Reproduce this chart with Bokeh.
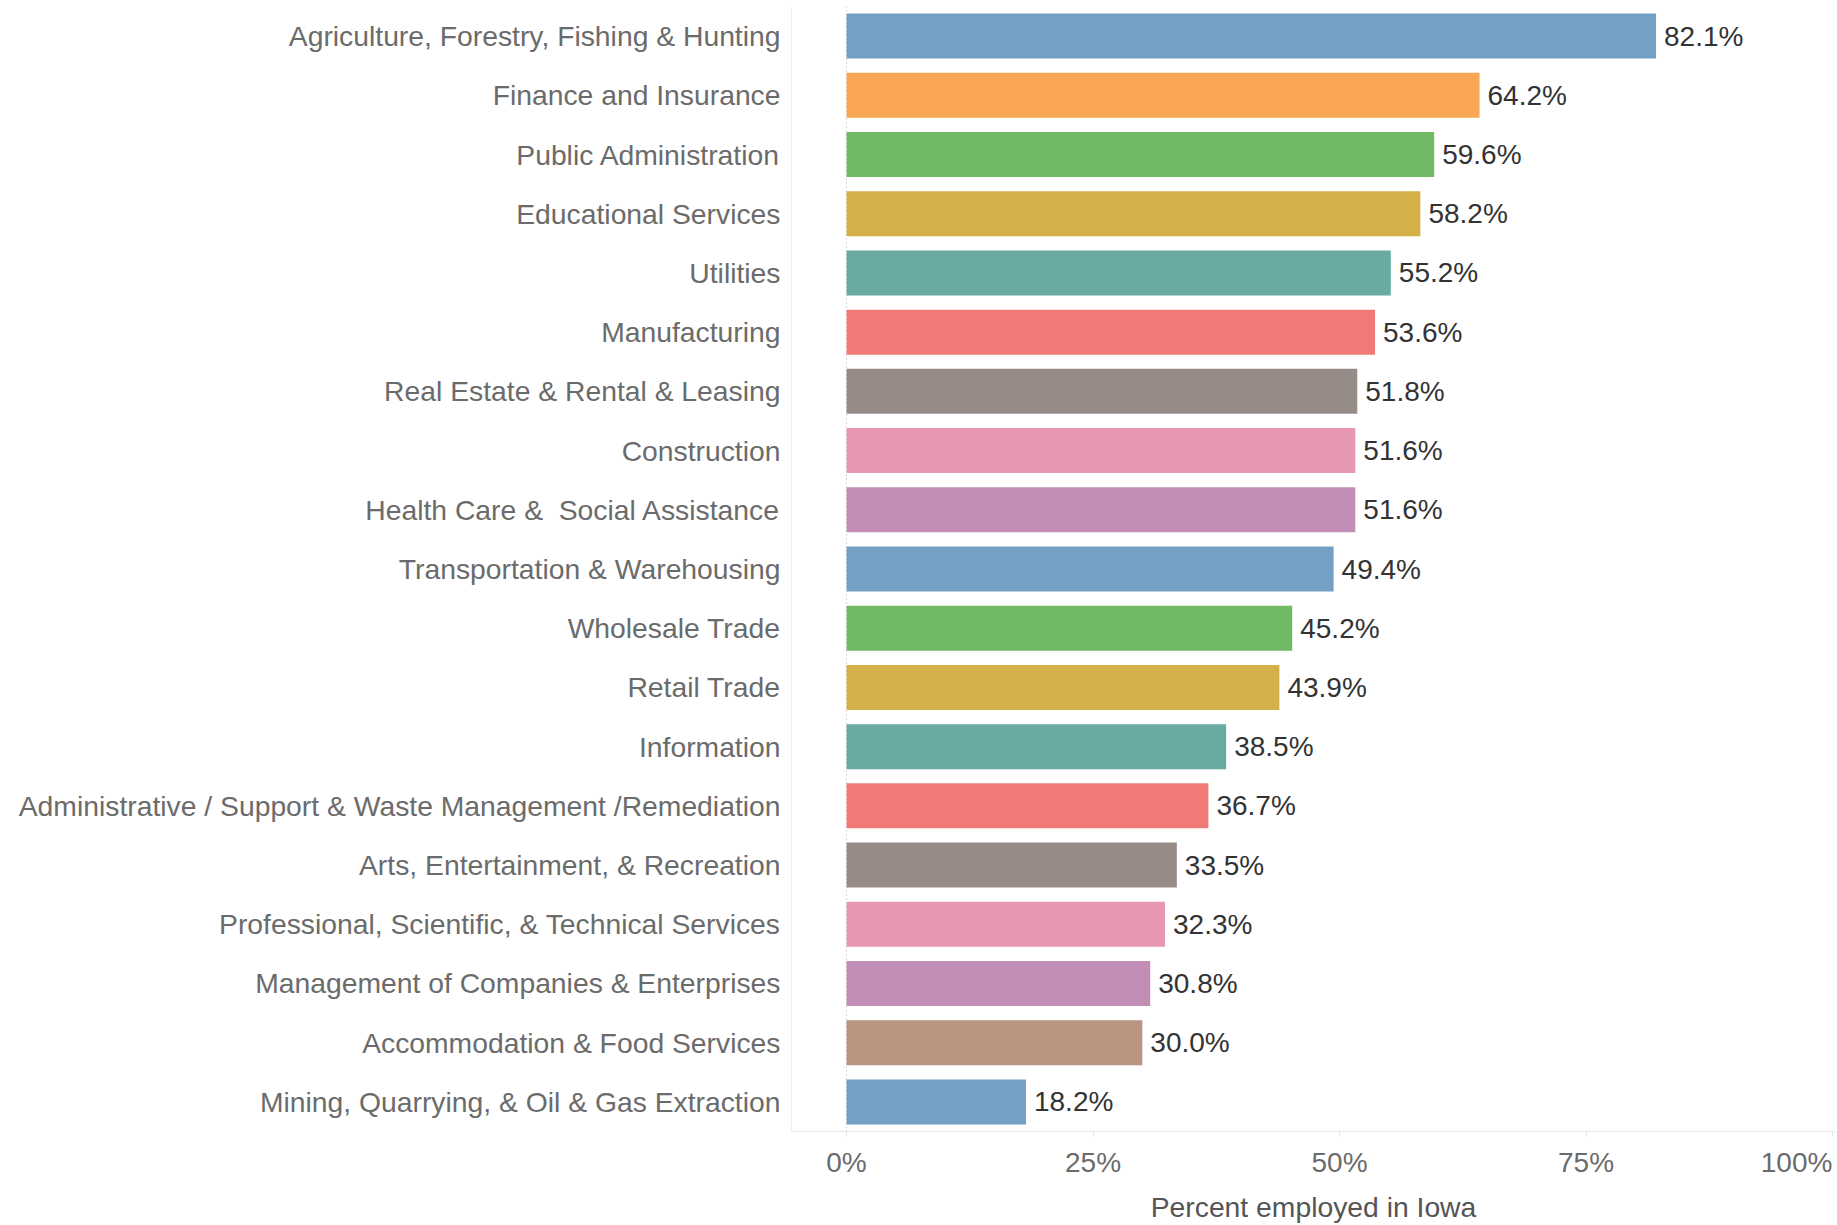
from bokeh.plotting import figure
from bokeh.models import FactorRange, Range1d, ColumnDataSource, FixedTicker, Span
from bokeh.core.properties import value
from bokeh.embed import file_html
from bokeh.resources import INLINE

categories = [
    "Agriculture, Forestry, Fishing & Hunting",
    "Finance and Insurance",
    "Public Administration",
    "Educational Services",
    "Utilities",
    "Manufacturing",
    "Real Estate & Rental & Leasing",
    "Construction",
    "Health Care &\u00a0 Social Assistance",
    "Transportation & Warehousing",
    "Wholesale Trade",
    "Retail Trade",
    "Information",
    "Administrative / Support & Waste Management /Remediation",
    "Arts, Entertainment, & Recreation",
    "Professional, Scientific, & Technical Services",
    "Management of Companies & Enterprises",
    "Accommodation & Food Services",
    "Mining, Quarrying, & Oil & Gas Extraction",
]
percent_employed = [82.1, 64.2, 59.6, 58.2, 55.2, 53.6, 51.8, 51.6, 51.6, 49.4,
                    45.2, 43.9, 38.5, 36.7, 33.5, 32.3, 30.8, 30.0, 18.2]
bar_colors = ["#74A0C6", "#F9A755", "#71B964", "#D4B048", "#69AAA3", "#F07B76",
              "#978B88", "#E897B0", "#C28EB5", "#74A0C6", "#71B964", "#D4B048",
              "#69AAA3", "#F07B76", "#978B88", "#E897B0", "#C28EB5", "#B99480",
              "#74A0C6"]
tick_values = [0, 25, 50, 75, 100]
tick_labels = ["0%", "25%", "50%", "75%", "100%"]

FONT = "Liberation Sans"
FS_CAT = "28.3px"
FS = "28px"

source = ColumnDataSource(dict(
    cat=categories,
    val=percent_employed,
    color=bar_colors,
    label=[f"{v:.1f}%" for v in percent_employed],
))

p = figure(
    width=1837, height=1225,
    y_range=FactorRange(factors=categories[::-1], range_padding=0),
    x_range=Range1d(-5.58, 100.3),
    output_backend="svg", toolbar_location=None,
    min_border_left=791, min_border_right=2, min_border_top=6, min_border_bottom=91,
)
p.outline_line_color = None
p.xgrid.grid_line_color = None
p.ygrid.grid_line_color = None
p.background_fill_color = "white"
p.border_fill_color = "white"

zero = Span(location=0, dimension="height", line_color="#B0B0B0",
            line_dash="1 3", line_width=1, level="underlay")
p.add_layout(zero)

p.hbar(y="cat", left=0, right="val", height=0.76, fill_color="color",
       line_color=None, source=source)

p.text(x="val", y="cat", text="label", x_offset=8, text_align="left",
       text_baseline="middle", text_font=value(FONT), text_font_size=FS,
       text_color="#333333", source=source)

# y axis
ya = p.yaxis[0]
ya.axis_line_color = "#EEEEEE"
ya.major_tick_line_color = None
ya.minor_tick_line_color = None
ya.major_tick_out = 0
ya.major_tick_in = 0
ya.major_label_standoff = 11
ya.major_label_text_font = FONT
ya.major_label_text_font_size = FS_CAT
ya.major_label_text_color = "#6B6B6B"

# x axis: labels kept inside the canvas (last label pulled left as in the source),
# tick marks drawn at the true positions as minor ticks
label_pos = [0, 25, 50, 75, 96.35]
xa = p.xaxis[0]
xa.ticker = FixedTicker(ticks=label_pos, minor_ticks=tick_values)
xa.major_label_overrides = {v: t for v, t in zip(label_pos, tick_labels)}
xa.axis_line_color = "#E6E6E6"
xa.major_tick_line_color = None
xa.major_tick_out = 5
xa.major_tick_in = 0
xa.minor_tick_line_color = "#E6E6E6"
xa.minor_tick_out = 5
xa.minor_tick_in = 0
xa.major_label_standoff = 10
xa.major_label_text_font = FONT
xa.major_label_text_font_size = FS
xa.major_label_text_color = "#6B6B6B"
xa.axis_label = "Percent employed in Iowa"
xa.axis_label_text_font = FONT
xa.axis_label_text_font_size = FS_CAT
xa.axis_label_text_font_style = "normal"
xa.axis_label_text_color = "#555555"
xa.axis_label_standoff = 10

open("out.html", "w").write(file_html(p, INLINE))
